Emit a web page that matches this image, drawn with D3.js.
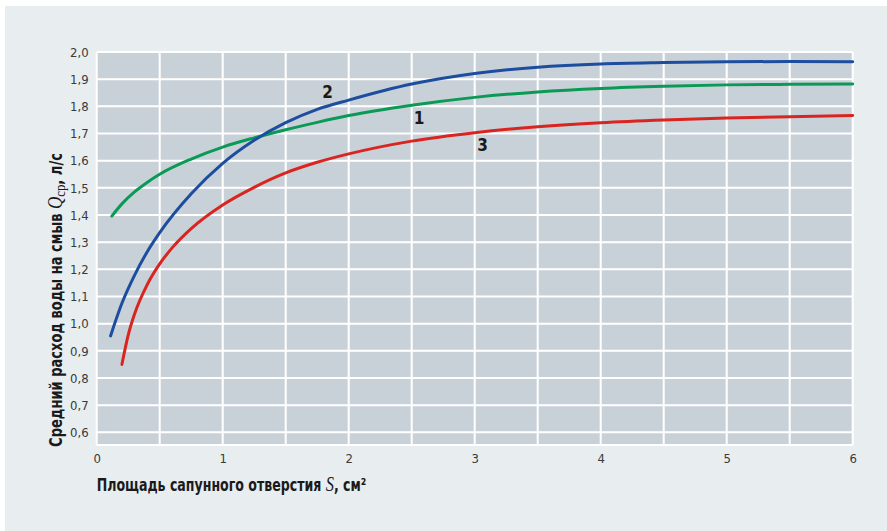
<!DOCTYPE html>
<html>
<head>
<meta charset="utf-8">
<script src="https://cdn.jsdelivr.net/npm/d3@7"></script>
<style>
  html, body { margin: 0; padding: 0; background: #ffffff; }
  svg { display: block; }
  .tick-label { font-family: "DejaVu Sans Condensed", "DejaVu Sans", sans-serif; font-stretch: condensed; font-size: 13px; fill: #3a3a3a; }
  .title { font-family: "DejaVu Sans Condensed", "DejaVu Sans", sans-serif; font-stretch: condensed; font-weight: bold; font-size: 17px; fill: #1a1a1a; }
  .serif-i { font-family: "Liberation Serif", "DejaVu Serif", serif; font-style: italic; font-weight: normal; }
  .serif { font-family: "Liberation Serif", "DejaVu Serif", serif; font-weight: normal; }
  .num { font-family: "DejaVu Sans Condensed", "DejaVu Sans", sans-serif; font-stretch: condensed; font-weight: bold; font-size: 17px; fill: #1a1a1a; }
</style>
</head>
<body>
<svg id="chart" width="887" height="531"></svg>
<script>
// ---- data ----
const xTicks = [0, 1, 2, 3, 4, 5, 6];
const yTicks = [0.6, 0.7, 0.8, 0.9, 1.0, 1.1, 1.2, 1.3, 1.4, 1.5, 1.6, 1.7, 1.8, 1.9, 2.0];
const xGrid = [0, 0.5, 1, 1.5, 2, 2.5, 3, 3.5, 4, 4.5, 5, 5.5, 6];

// curve 1 (green)
const s1x = [0.12, 0.2, 0.3, 0.4, 0.5, 0.75, 1.0, 1.25, 1.5, 1.75, 2.0, 2.5, 3.0, 3.5, 4.0, 4.5, 5.0, 5.5, 6.0];
const s1y = [1.396, 1.441, 1.485, 1.520, 1.550, 1.606, 1.650, 1.684, 1.714, 1.741, 1.766, 1.804, 1.833, 1.853, 1.866, 1.874, 1.879, 1.881, 1.882];

// curve 2 (blue)
const s2x = [0.11, 0.2, 0.3, 0.4, 0.5, 0.75, 1.0, 1.25, 1.5, 1.75, 2.0, 2.5, 3.0, 3.5, 4.0, 4.5, 5.0, 5.5, 6.0];
const s2y = [0.955, 1.075, 1.178, 1.264, 1.335, 1.478, 1.590, 1.675, 1.740, 1.789, 1.823, 1.882, 1.921, 1.944, 1.956, 1.961, 1.964, 1.965, 1.964];

// curve 3 (red)
const s3x = [0.2, 0.25, 0.3, 0.4, 0.5, 0.6, 0.75, 1.0, 1.25, 1.5, 1.75, 2.0, 2.5, 3.0, 3.5, 4.0, 4.5, 5.0, 5.5, 6.0];
const s3y = [0.85, 0.958, 1.035, 1.143, 1.220, 1.280, 1.350, 1.437, 1.502, 1.555, 1.594, 1.625, 1.672, 1.703, 1.725, 1.740, 1.750, 1.757, 1.762, 1.766];

const seriesNames = ["1", "2", "3"];
const labelX = [2.558, 1.833, 3.063];
const labelY = [1.756, 1.854, 1.657];

// ---- layout ----
const svg = d3.select("#chart");
const W = 887, H = 531;
const plot = { left: 96.7, right: 852.7, top: 52, bottom: 445 };

svg.append("rect").attr("x", 5).attr("y", 6).attr("width", W - 5).attr("height", H - 6).attr("fill", "#e8edf0");

const x = d3.scaleLinear().domain([0, 6]).range([plot.left, plot.right]);
const y = d3.scaleLinear().domain([0.5535, 2.0]).range([plot.bottom, plot.top]);

svg.append("rect").attr("x", plot.left).attr("y", plot.top)
  .attr("width", plot.right - plot.left).attr("height", plot.bottom - plot.top)
  .attr("fill", "#c9d1d8");

const grid = svg.append("g").attr("stroke", "#ffffff").attr("stroke-width", 2);
grid.selectAll("line.h").data(yTicks).join("line").attr("class", "h")
  .attr("x1", plot.left).attr("x2", plot.right)
  .attr("y1", d => y(d)).attr("y2", d => y(d));
grid.selectAll("line.v").data(xGrid).join("line").attr("class", "v")
  .attr("y1", plot.top).attr("y2", plot.bottom)
  .attr("x1", d => x(d)).attr("x2", d => x(d));
grid.append("line").attr("x1", plot.left).attr("x2", plot.right)
  .attr("y1", plot.bottom).attr("y2", plot.bottom);

// axes via d3 axis, styled
const yAxis = d3.axisLeft(y).tickValues(yTicks).tickSize(0).tickPadding(8)
  .tickFormat(d => d3.format(".1f")(d).replace(".", ","));
const gy = svg.append("g").attr("transform", `translate(${plot.left},0)`).call(yAxis);
gy.select(".domain").remove();
gy.selectAll("text").attr("class", "tick-label").attr("font-family", null).attr("font-size", null).attr("fill", null);

const xAxis = d3.axisBottom(x).tickValues(xTicks).tickSize(0).tickPadding(9).tickFormat(d3.format("d"));
const gx = svg.append("g").attr("transform", `translate(0,${plot.bottom})`).call(xAxis);
gx.select(".domain").remove();
gx.selectAll("text").attr("class", "tick-label").attr("font-family", null).attr("font-size", null).attr("fill", null);

// curves
const colors = ["#0b9a56", "#1d4d9e", "#d9251f"];
const allX = [s1x, s2x, s3x], allY = [s1y, s2y, s3y];
const line = d3.line().x(d => x(d[0])).y(d => y(d[1])).curve(d3.curveMonotoneX);
allX.forEach((xs, i) => {
  const pts = xs.map((v, j) => [v, allY[i][j]]);
  svg.append("path").datum(pts).attr("d", line)
    .attr("fill", "none").attr("stroke", colors[i]).attr("stroke-width", 3)
    .attr("stroke-linecap", "round");
});

// curve labels
svg.selectAll("text.num").data(seriesNames).join("text").attr("class", "num")
  .attr("x", (d, i) => x(labelX[i])).attr("y", (d, i) => y(labelY[i]))
  .attr("text-anchor", "middle").attr("dy", "0.36em").text(d => d);

// x title (horizontally compressed to the reference width)
const xg = svg.append("g");
const xt = xg.append("text").attr("class", "title").attr("x", 0).attr("y", 0);
xt.append("tspan").text("Площадь сапунного отверстия ");
xt.append("tspan").attr("class", "serif-i").attr("font-size", 20).text("S");
xt.append("tspan").text(", см²");
const xw = xt.node().getComputedTextLength();
xg.attr("transform", `translate(${plot.left},491) scale(${270 / xw},1)`);

// y title
const yg = svg.append("g");
const yt = yg.append("text").attr("class", "title").attr("text-anchor", "middle");
yt.append("tspan").text("Средний расход воды на смыв ");
yt.append("tspan").attr("class", "serif-i").attr("font-size", 20).text("Q");
yt.append("tspan").attr("class", "serif").attr("font-size", 15).attr("dy", 3).text("ср");
yt.append("tspan").attr("dy", -3).text(", л/с");
const yw = yt.node().getComputedTextLength();
yg.attr("transform", `translate(62,300) rotate(-90) scale(${294 / yw},1)`);
</script>
</body>
</html>
